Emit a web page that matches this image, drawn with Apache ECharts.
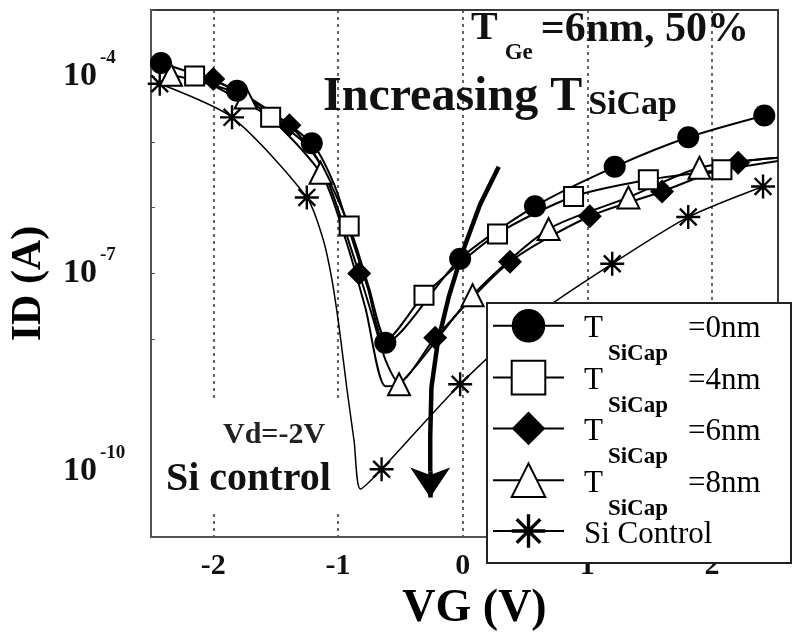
<!DOCTYPE html>
<html>
<head>
<meta charset="utf-8">
<script src="https://cdn.jsdelivr.net/npm/echarts@6/dist/echarts.min.js"></script>
<style>
  html, body { margin: 0; padding: 0; background: #fff; }
  #chart { width: 792px; height: 637px; }
</style>
</head>
<body>
<div id="chart"></div>
<script>
// Drain current ID versus gate voltage VG (Vd = -2 V) for SiGe channels with a Si cap,
// compared with a Si control device.

const capLabels = ['0nm', '4nm', '6nm', '8nm'];
const controlLabel = 'Si Control';

// Each curve: gate voltage (V), drain current (A), marker flag (1 = symbol drawn on that point)
const vgCap0 = [-2.42, -1.81, -1.21, -1.03, -0.90, -0.76, -0.62, -0.02, 0.58, 1.22, 1.81, 2.42];
const idCap0 = [1.57e-4, 5.96e-5, 9.5e-6, 2.24e-6, 4.0e-7, 5.96e-8, 8.9e-9, 1.68e-7, 1.05e-6, 4.17e-6, 1.17e-5, 2.51e-5];
const mkCap0 = [1, 1, 1, 0, 0, 0, 1, 1, 1, 1, 1, 1];

const vgCap4 = [-2.15, -1.54, -1.20, -0.91, -0.75, -0.61, -0.31, 0.28, 0.89, 1.49, 2.08, 2.53];
const idCap4 = [1.0e-4, 2.35e-5, 7.0e-6, 5.25e-7, 5.96e-8, 9.9e-9, 4.68e-8, 4.0e-7, 1.48e-6, 2.66e-6, 3.76e-6, 5.1e-6];
const mkCap4 = [1, 1, 0, 1, 0, 0, 1, 1, 1, 1, 1, 0];

const vgCap6 = [-2.00, -1.39, -1.12, -0.83, -0.72, -0.62, -0.51, -0.22, 0.38, 1.02, 1.60, 2.21, 2.53];
const idCap6 = [9.0e-5, 1.78e-5, 3.76e-6, 1.0e-7, 2.11e-8, 4.95e-9, 2.24e-9, 1.06e-8, 1.51e-7, 7.4e-7, 1.76e-6, 4.8e-6, 5.7e-6];
const mkCap6 = [1, 1, 0, 1, 0, 0, 0, 1, 1, 1, 1, 1, 0];

const vgCap8 = [-2.34, -1.74, -1.14, -0.94, -0.78, -0.62, -0.51, 0.08, 0.69, 1.33, 1.90, 2.53];
const idCap8 = [1.04e-4, 4.68e-5, 3.39e-6, 3.35e-7, 2.99e-8, 1.95e-9, 2.09e-9, 4.68e-8, 4.73e-7, 1.43e-6, 4.03e-6, 5.7e-6];
const mkCap8 = [1, 1, 1, 0, 0, 0, 1, 1, 1, 1, 1, 0];

const vgControl = [-2.43, -1.85, -1.25, -1.12, -1.05, -0.99, -0.93, -0.87, -0.82, -0.65, -0.02, 0.58, 1.20, 1.81, 2.41];
const idControl = [7.6e-5, 2.35e-5, 1.43e-6, 3.35e-7, 8.4e-8, 1.5e-8, 1.88e-9, 2.8e-10, 5.37e-11, 1.07e-10, 2.09e-9, 2.26e-8, 1.41e-7, 7.2e-7, 2.1e-6];
const mkControl = [1, 1, 1, 0, 0, 0, 0, 0, 0, 1, 1, 1, 1, 1, 1];

// Trend arrow (increasing Si cap thickness): curved shaft, then a straight head segment
const arrowVG = [0.29, 0.14, 0.00, -0.11, -0.20, -0.25, -0.26, -0.26];
const arrowID = [4.17e-6, 1.12e-6, 2.14e-7, 4.52e-8, 8.9e-9, 1.88e-9, 3.35e-10, 1.0e-10];
const arrowHeadVG = [-0.26, -0.26];
const arrowHeadID = [1.0e-10, 4.0e-11];

// Axis ticks
const xTicks = [-2, -1, 0, 1, 2];
const yLabelExps = [-4, -7, -10];
const gridCurrents = [1e-4, 1e-7, 1e-10];

const FONT = '"Liberation Serif", "Times New Roman", serif';
// Eight-armed asterisk marker
const STAR = 'path://M45 0L55 0L55 100L45 100Z M0 45L100 45L100 55L0 55Z ' +
  'M18.5 11.5L88.5 81.5L81.5 88.5L11.5 18.5Z M81.5 11.5L88.5 18.5L18.5 88.5L11.5 81.5Z';

function curve(name, vg, id, mk, symbol, size, fill, lineWidth) {
  return {
    type: 'line',
    name: name,
    smooth: 0.25,
    showAllSymbol: true,
    symbol: symbol,
    symbolSize: size,
    data: vg.map((v, i) => mk[i] ? [v, id[i]] : { value: [v, id[i]], symbol: 'none' }),
    itemStyle: { color: fill, borderColor: '#000', borderWidth: fill === '#fff' ? 2 : 0 },
    lineStyle: { color: '#000', width: lineWidth },
    emphasis: { disabled: true },
    z: 3
  };
}

const capNames = capLabels.map(c => 'TSiCap=' + c);

const chart = echarts.init(document.getElementById('chart'), null, { renderer: 'canvas' });

chart.setOption({
  animation: false,
  backgroundColor: '#fff',
  grid: {
    left: 148, top: 10, width: 630, height: 533,
    show: true, borderColor: '#3a3a3a', borderWidth: 2, backgroundColor: 'transparent'
  },
  xAxis: {
    type: 'value', min: -2.5, max: 2.53, splitNumber: 5,
    name: 'VG (V)', nameLocation: 'middle', nameGap: 44,
    nameTextStyle: { fontFamily: FONT, fontSize: 46, fontWeight: 'bold', color: '#000', padding: [0, 0, 0, 20] },
    axisLine: { onZero: false, lineStyle: { color: '#555', width: 2 } },
    axisTick: { show: false },
    axisLabel: {
      margin: 14, fontFamily: FONT, fontSize: 30, fontWeight: 'bold', color: '#111',
      formatter: v => xTicks.includes(v) ? String(v) : ''
    },
    splitLine: { show: true, lineStyle: { color: '#333', width: 1.5, type: [3, 4] } }
  },
  yAxis: {
    type: 'log', logBase: 10, min: 1e-11, max: 1e-3, splitNumber: 8,
    name: 'ID (A)', nameLocation: 'middle', nameGap: 101, nameRotate: 90,
    nameTextStyle: { fontFamily: FONT, fontSize: 42, fontWeight: 'bold', color: '#000', padding: [0, 20, 0, 0] },
    axisLine: { onZero: false, lineStyle: { color: '#555', width: 2 } },
    axisTick: { show: true, inside: true, length: 4, lineStyle: { color: '#555' } },
    splitLine: { show: false },
    axisLabel: {
      align: 'left', margin: 88, color: '#111',
      formatter: v => {
        const e = Math.round(Math.log10(v));
        return yLabelExps.includes(e) ? '{b|10}{e|' + e + '}' : '';
      },
      rich: {
        b: { fontFamily: FONT, fontSize: 34, fontWeight: 'bold', lineHeight: 34, verticalAlign: 'middle', color: '#111' },
        e: { fontFamily: FONT, fontSize: 19, fontWeight: 'bold', lineHeight: 19, padding: [0, 0, 36, 3], verticalAlign: 'middle', color: '#111' }
      }
    }
  },
  legend: {
    orient: 'vertical', left: 492, top: 309, padding: 0, zlevel: 1, z: 11,
    itemGap: -6, itemWidth: 71, itemHeight: 42,
    selectedMode: false,
    data: capNames.concat([controlLabel]),
    formatter: name => name === controlLabel
      ? '{c|' + controlLabel + '}'
      : '{a|T}{s|SiCap}{t|=' + name.split('=')[1] + '}',
    textStyle: {
      fontFamily: FONT, color: '#000',
      rich: {
        a: { fontFamily: FONT, fontSize: 31, lineHeight: 32, padding: [4, 0, 0, 15], verticalAlign: 'top', color: '#000' },
        s: { fontFamily: FONT, fontSize: 23, fontWeight: 'bold', lineHeight: 20, padding: [33, 0, 0, 5], verticalAlign: 'top', color: '#000' },
        t: { fontFamily: FONT, fontSize: 31, lineHeight: 32, padding: [4, 0, 0, 20], verticalAlign: 'top', color: '#000' },
        c: { fontFamily: FONT, fontSize: 31, lineHeight: 32, padding: [4, 0, 0, 15], verticalAlign: 'top', color: '#000' }
      }
    }
  },
  graphic: [
    { type: 'rect', zlevel: 1, z: 10, shape: { x: 487, y: 303, width: 304, height: 260 },
      style: { fill: '#fff', stroke: '#222', lineWidth: 2 } },
    { type: 'rect', z: 5, shape: { x: 152, y: 402, width: 188, height: 110 }, style: { fill: '#fff' } },
    { type: 'text', z: 6, x: 223, y: 420,
      style: { text: 'Vd=-2V', font: 'bold 30px ' + FONT, fill: '#222' } },
    { type: 'text', z: 6, x: 166, y: 460,
      style: { text: 'Si control', font: 'bold 40px ' + FONT, fill: '#111' } },
    { type: 'text', z: 6, x: 471, y: 9,
      style: {
        text: '{t|T}{s|Ge}{u|=6nm, 50%}',
        rich: {
          t: { fontFamily: FONT, fontSize: 40, fontWeight: 'bold', lineHeight: 40, verticalAlign: 'top', fill: '#111' },
          s: { fontFamily: FONT, fontSize: 23, fontWeight: 'bold', lineHeight: 23, padding: [33, 0, 0, 7], verticalAlign: 'top', fill: '#111' },
          u: { fontFamily: FONT, fontSize: 42, fontWeight: 'bold', lineHeight: 40, padding: [0, 0, 0, 8], verticalAlign: 'top', fill: '#111' }
        }
      } },
    { type: 'text', z: 6, x: 323, y: 74,
      style: {
        text: '{a|Increasing T}{s|SiCap}',
        rich: {
          a: { fontFamily: FONT, fontSize: 48, fontWeight: 'bold', lineHeight: 48, verticalAlign: 'top', fill: '#111' },
          s: { fontFamily: FONT, fontSize: 34, fontWeight: 'bold', lineHeight: 34, padding: [14, 0, 0, 6], verticalAlign: 'top', fill: '#111' }
        }
      } }
  ],
  series: [
    {
      type: 'line', name: 'grid', data: [], z: 1, silent: true,
      markLine: {
        silent: true, symbol: 'none', label: { show: false },
        lineStyle: { color: '#333', width: 1.5, type: [7, 5] },
        data: gridCurrents.map(v => ({ yAxis: v }))
      }
    },
    curve(controlLabel, vgControl, idControl, mkControl, STAR, 24, '#000', 1.5),
    curve(capNames[3], vgCap8, idCap8, mkCap8, 'triangle', 22, '#fff', 2),
    curve(capNames[2], vgCap6, idCap6, mkCap6, 'diamond', 24, '#000', 2),
    curve(capNames[1], vgCap4, idCap4, mkCap4, 'rect', 19, '#fff', 2),
    curve(capNames[0], vgCap0, idCap0, mkCap0, 'circle', 22, '#000', 2),
    {
      type: 'lines', name: 'trend', coordinateSystem: 'cartesian2d', polyline: true, z: 4,
      lineStyle: { color: '#000', width: 4.5, opacity: 1 },
      data: [{ coords: arrowVG.map((v, i) => [v, arrowID[i]]) }]
    },
    {
      type: 'lines', name: 'trendHead', coordinateSystem: 'cartesian2d', z: 4,
      symbol: ['none', 'arrow'], symbolSize: [26, 30],
      lineStyle: { color: '#000', width: 4.5, opacity: 1, curveness: 0 },
      data: [{ coords: arrowHeadVG.map((v, i) => [v, arrowHeadID[i]]) }]
    }
  ]
});
</script>
</body>
</html>
